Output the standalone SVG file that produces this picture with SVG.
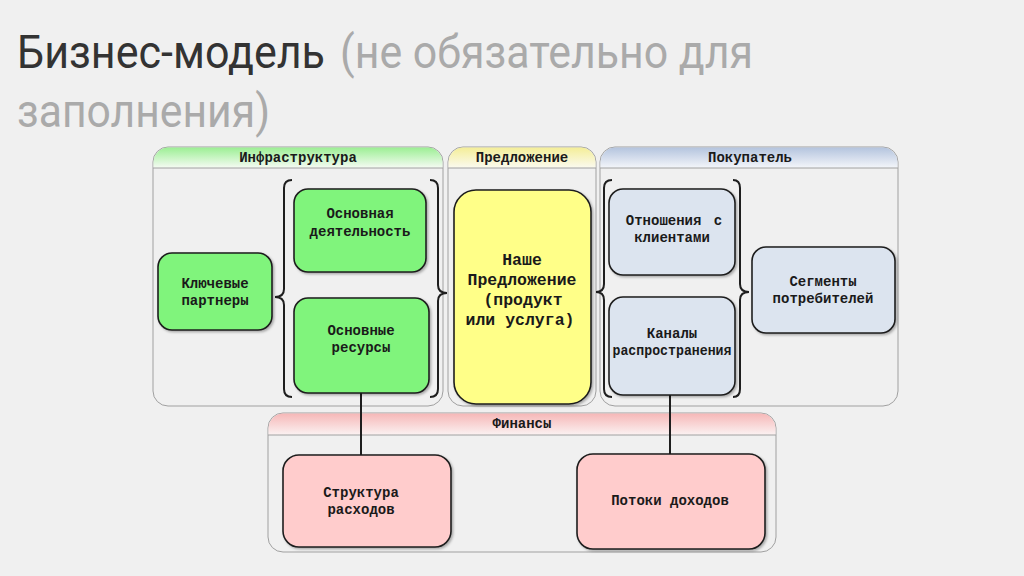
<svg xmlns="http://www.w3.org/2000/svg" width="1024" height="576" viewBox="0 0 1024 576">
<defs>
<linearGradient id="gG" x1="0" y1="0" x2="0" y2="1"><stop offset="0" stop-color="#9cef94"/><stop offset="1" stop-color="#f6fbf4"/></linearGradient>
<linearGradient id="gY" x1="0" y1="0" x2="0" y2="1"><stop offset="0" stop-color="#f4ee98"/><stop offset="1" stop-color="#fbfaf0"/></linearGradient>
<linearGradient id="gB" x1="0" y1="0" x2="0" y2="1"><stop offset="0" stop-color="#b4c4de"/><stop offset="1" stop-color="#f4f6fa"/></linearGradient>
<linearGradient id="gR" x1="0" y1="0" x2="0" y2="1"><stop offset="0" stop-color="#f6b8b8"/><stop offset="1" stop-color="#fbf2f2"/></linearGradient>
<filter id="sh" x="-10%" y="-10%" width="125%" height="125%"><feDropShadow dx="1.5" dy="1.5" stdDeviation="1.2" flood-color="#000" flood-opacity="0.3"/></filter>
<style>
.cont{fill:#f0f0f0;stroke:#a0a0a0;stroke-width:1}
.sep{stroke:#a0a0a0;stroke-width:1}
.hdr{stroke:none}
.node{stroke:#1e1e1e;stroke-width:1.6;filter:url(#sh)}
.g{fill:#80f47c}
.y{fill:#ffff88}
.b{fill:#dce4ef}
.r{fill:#ffcccc}
.t{font-family:"Liberation Mono","Courier New",monospace;font-weight:bold;font-size:14px;fill:#1a1a1a;text-anchor:middle}
.th{font-family:"Liberation Mono","Courier New",monospace;font-weight:bold;font-size:14px;fill:#1a1a1a;text-anchor:middle}
.tb{font-family:"Liberation Mono","Courier New",monospace;font-weight:bold;font-size:16.5px;fill:#1a1a1a;text-anchor:middle}
.br{fill:none;stroke:#1e1e1e;stroke-width:2}
.cn{fill:none;stroke:#1e1e1e;stroke-width:2}
.title{font-family:Roboto,"Noto Sans",sans-serif;font-size:46px}
</style>
</defs>
<rect x="0" y="0" width="1024" height="576" fill="#f0f0f0"/>

<g id="title">
<text class="title" x="17" y="68" fill="#333333" textLength="308" lengthAdjust="spacingAndGlyphs">Бизнес-модель</text>
<text class="title" x="340" y="68" fill="#aaaaaa" textLength="413" lengthAdjust="spacingAndGlyphs">(не обязательно для</text>
<text class="title" x="17" y="127" fill="#aaaaaa" textLength="253" lengthAdjust="spacingAndGlyphs">заполнения)</text>
</g>

<g id="infrastructure">
<rect class="cont" x="153" y="147" width="290" height="259" rx="15"/>
<path class="hdr" fill="url(#gG)" d="M153.5,168 V162 A15,15 0 0 1 168,147.5 H428 A15,15 0 0 1 442.5,162 V168 Z"/>
<line class="sep" x1="153" y1="168" x2="443" y2="168"/>
<text class="th" x="298" y="162">Инфраструктура</text>
</g>
<g id="offer">
<rect class="cont" x="448" y="147" width="148" height="259" rx="15"/>
<path class="hdr" fill="url(#gY)" d="M448.5,168 V162 A15,15 0 0 1 463,147.5 H581 A15,15 0 0 1 595.5,162 V168 Z"/>
<line class="sep" x1="448" y1="168" x2="596" y2="168"/>
<text class="th" x="522" y="162">Предложение</text>
</g>
<g id="buyer">
<rect class="cont" x="600" y="147" width="298" height="259" rx="15"/>
<path class="hdr" fill="url(#gB)" d="M600.5,168 V162 A15,15 0 0 1 615,147.5 H883 A15,15 0 0 1 897.5,162 V168 Z"/>
<line class="sep" x1="600" y1="168" x2="898" y2="168"/>
<text class="th" x="750" y="162">Покупатель</text>
</g>
<g id="finance">
<rect class="cont" x="268" y="413" width="508" height="139" rx="15"/>
<path class="hdr" fill="url(#gR)" d="M268.5,435 V428 A15,15 0 0 1 283,413.5 H761 A15,15 0 0 1 775.5,428 V435 Z"/>
<line class="sep" x1="268" y1="435" x2="776" y2="435"/>
<text class="th" x="522" y="428">Финансы</text>
</g>

<g id="connectors">
<line class="cn" x1="361" y1="393" x2="361" y2="456"/>
<line class="cn" x1="670" y1="395" x2="670" y2="455"/>
</g>

<g id="brackets">
<path class="br" d="M292,180 Q284,180 284,188 L284,289 Q284,297 275,297 Q284,297 284,305 L284,389 Q284,397 292,397"/>
<path class="br" d="M430,180 Q438,180 438,188 L438,285 Q438,293 447,293 Q438,293 438,301 L438,389 Q438,397 430,397"/>
<path class="br" d="M612,180 Q604,180 604,188 L604,284 Q604,292 596,292 Q604,292 604,300 L604,389 Q604,397 612,397"/>
<path class="br" d="M733,180 Q740,180 740,188 L740,284 Q740,292 749,292 Q740,292 740,300 L740,389 Q740,397 733,397"/>
</g>

<g id="key-partners">
<rect class="node g" x="158" y="253" width="114" height="77" rx="14"/>
<text class="t" x="215" y="288">Ключевые</text>
<text class="t" x="215" y="305">партнеры</text>
</g>
<g id="key-activities">
<rect class="node g" x="294" y="189" width="132" height="83" rx="14"/>
<text class="t" x="360" y="218">Основная</text>
<text class="t" x="360" y="236">деятельность</text>
</g>
<g id="key-resources">
<rect class="node g" x="294" y="298" width="135" height="95" rx="14"/>
<text class="t" x="361" y="335">Основные</text>
<text class="t" x="361" y="352">ресурсы</text>
</g>
<g id="value-proposition">
<rect class="node y" x="454" y="190" width="137" height="214" rx="22"/>
<text class="tb" x="522" y="265">Наше</text>
<text class="tb" x="522" y="285">Предложение</text>
<text class="tb" x="523" y="305">(продукт</text>
<text class="tb" x="520" y="325">или услуга)</text>
</g>
<g id="customer-relationships">
<rect class="node b" x="609" y="189" width="126" height="86" rx="14"/>
<text class="t" x="674" y="225" word-spacing="4">Отношения с</text>
<text class="t" x="672" y="242">клиентами</text>
</g>
<g id="channels">
<rect class="node b" x="609" y="297" width="126" height="98" rx="14"/>
<text class="t" x="672" y="338">Каналы</text>
<text class="t" x="672" y="355" textLength="119" lengthAdjust="spacingAndGlyphs">распространения</text>
</g>
<g id="customer-segments">
<rect class="node b" x="752" y="247" width="143" height="86" rx="14"/>
<text class="t" x="823" y="286">Сегменты</text>
<text class="t" x="823" y="303">потребителей</text>
</g>
<g id="cost-structure">
<rect class="node r" x="283" y="455" width="168" height="92" rx="16"/>
<text class="t" x="361" y="497">Структура</text>
<text class="t" x="361" y="514">расходов</text>
</g>
<g id="revenue-streams">
<rect class="node r" x="577" y="454" width="188" height="95" rx="16"/>
<text class="t" x="670" y="505">Потоки доходов</text>
</g>
</svg>
